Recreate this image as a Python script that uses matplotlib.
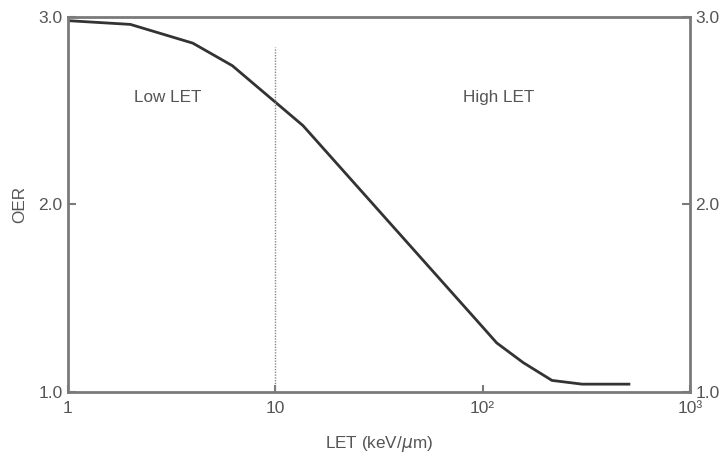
import matplotlib.pyplot as plt
from matplotlib.ticker import FixedLocator, FixedFormatter, NullLocator

plt.rcParams['font.family'] = ['Liberation Sans', 'DejaVu Sans']

# OER versus LET
let_vals = [1, 2, 4, 6.2, 13.6, 100, 117, 157, 216, 302, 508]
oer_vals = [2.98, 2.96, 2.86, 2.74, 2.42, 1.345, 1.26, 1.155, 1.06, 1.04, 1.04]

x_ticks = [1, 10, 100, 1000]
x_ticklabels = ['1', '10', '10²', '10³']
y_ticks = [1.0, 2.0, 3.0]
y_ticklabels = ['1.0', '2.0', '3.0']

divide_let = 10
divide_top = 2.84

txt = '#555555'
spine_c = '#7a7a7a'

fig = plt.figure(figsize=(7.24, 4.57), dpi=100)
ax = fig.add_axes([0.0939, 0.143, 0.859, 0.820])

ax.plot(let_vals, oer_vals, color='#333333', lw=2.0, solid_joinstyle='miter')
ax.plot([divide_let, divide_let], [1.0, divide_top], color='#888888', lw=1.0, ls=(0, (1, 1)))

ax.set_xscale('log')
ax.set_xlim(1, 1000)
ax.set_ylim(1.0, 3.0)

ax.xaxis.set_major_locator(FixedLocator(x_ticks))
ax.xaxis.set_major_formatter(FixedFormatter(x_ticklabels))
ax.xaxis.set_minor_locator(NullLocator())
ax.set_yticks(y_ticks)
ax.set_yticklabels(y_ticklabels)

ax.tick_params(axis='x', direction='in', length=5, width=1.5, color=spine_c,
               labelsize=12.5, labelcolor=txt, pad=7)
ax.tick_params(axis='y', direction='in', length=6, width=1.5, color=spine_c,
               labelsize=12.5, labelcolor=txt, pad=4, right=True, labelright=True)

for s in ax.spines.values():
    s.set_color(spine_c)
    s.set_linewidth(2.0)

ax.text(0.16, 0.785, 'Low LET', transform=ax.transAxes, ha='center', va='center',
        fontsize=12.3, color=txt)
ax.text(0.692, 0.785, 'High LET', transform=ax.transAxes, ha='center', va='center',
        fontsize=12.3, color=txt)

ax.set_xlabel(r'LET (keV/$\mu$m)', fontsize=12.3, color=txt, labelpad=13)
ax.set_ylabel('OER', fontsize=12.3, color=txt, labelpad=8)

fig.savefig('out.png', dpi=100)
